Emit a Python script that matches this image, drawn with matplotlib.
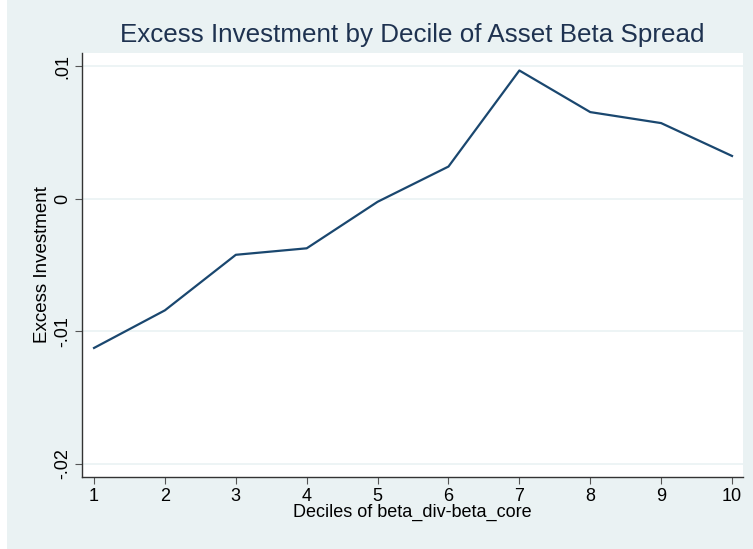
import numpy as np
import matplotlib
matplotlib.use("Agg")
import matplotlib.pyplot as plt
from matplotlib.patches import Rectangle

# 数据：各十分位的超额投资
deciles = [1, 2, 3, 4, 5, 6, 7, 8, 9, 10]
excess_inv = [-0.01126, -0.00842, -0.00423, -0.00374, -0.00023,
              0.00243, 0.00968, 0.00654, 0.00571, 0.00323]
y_ticks = [-0.02, -0.01, 0.0, 0.01]
y_tick_labels = ["-.02", "-.01", "0", ".01"]

plt.rcParams['font.family'] = ['Liberation Sans', 'DejaVu Sans']

bg = '#eaf2f3'
navy = '#1a476f'

fig = plt.figure(figsize=(7.53, 5.49), dpi=100, facecolor=bg)
# 左侧白边
fig.patches.append(Rectangle((0, 0), 7 / 753, 1, transform=fig.transFigure,
                             facecolor='white', edgecolor='none', zorder=-1))

ax = fig.add_axes([82 / 753, 1 - 477 / 549, 661 / 753, 424 / 549])
ax.set_facecolor('white')

ax.plot(deciles, excess_inv, color=navy, linewidth=1.6)

ax.set_xlim(0.83, 10.155)
ax.set_ylim(-0.021, 0.011)
ax.set_xticks(deciles)
ax.set_xticklabels([str(d) for d in deciles], fontsize=13)
ax.set_yticks(y_ticks)
ax.set_yticklabels(y_tick_labels, fontsize=13, rotation=90, va='center')

ax.grid(axis='y', color=bg, linewidth=1.2)
ax.set_axisbelow(True)
for side in ['top', 'right']:
    ax.spines[side].set_visible(False)
for side in ['left', 'bottom']:
    ax.spines[side].set_color('#333333')
    ax.spines[side].set_linewidth(1.0)
ax.tick_params(axis='both', direction='out', length=5, color='#555555', pad=3)

ax.set_xlabel('Deciles of beta_div-beta_core', fontsize=13, labelpad=-1)
ax.set_ylabel('Excess Investment', fontsize=13.5, labelpad=2)

fig.text(412 / 753, 1 - 35 / 549, 'Excess Investment by Decile of Asset Beta Spread',
         fontsize=18.7, color='#1e3250', ha='center', va='center')

fig.savefig('out.png', dpi=100, facecolor=bg)
